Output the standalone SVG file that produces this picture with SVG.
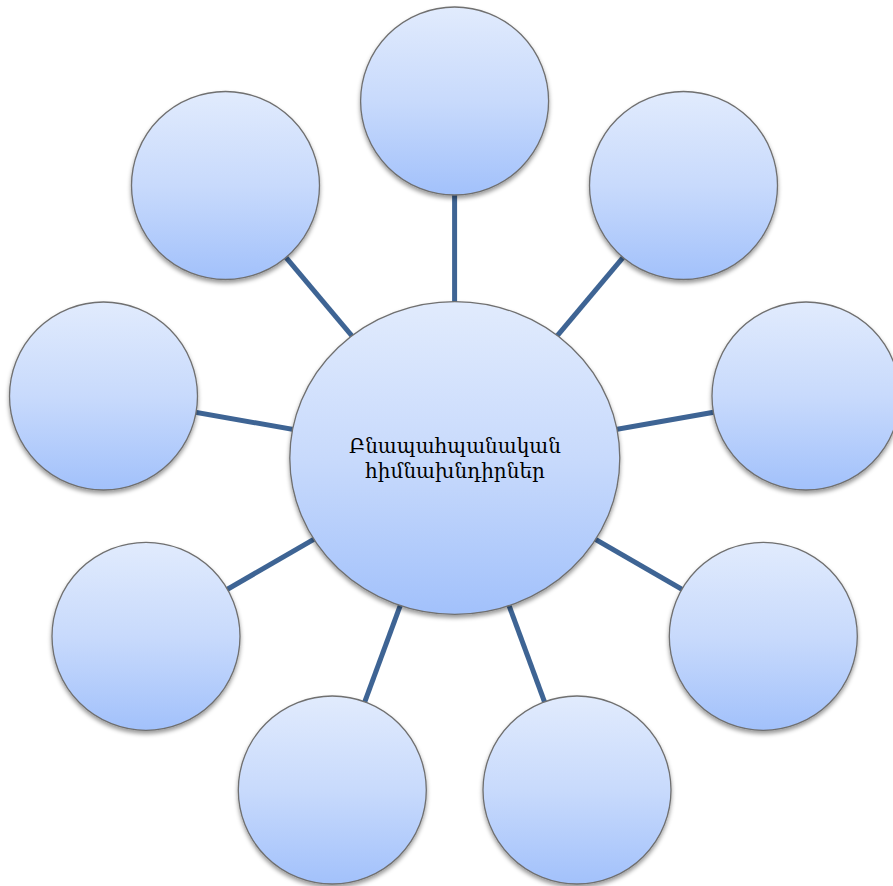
<svg xmlns="http://www.w3.org/2000/svg" width="893" height="886" viewBox="0 0 893 886">
<style>
.node{fill:url(#g);stroke:#6f6f6f;stroke-width:1.3;filter:url(#sh)}
.conn line{stroke:#3e6494;stroke-width:5;stroke-linecap:butt}
.lbl{font-family:"DejaVu Serif","Liberation Serif",serif;font-size:20px;fill:#000;text-anchor:middle}
</style>
<defs>
<linearGradient id="g" x1="0" y1="0" x2="0" y2="1">
<stop offset="0" stop-color="#e1ebfd"/>
<stop offset="0.5" stop-color="#c8dafc"/>
<stop offset="1" stop-color="#a2c1fb"/>
</linearGradient>
<filter id="sh" x="-20%" y="-20%" width="140%" height="150%">
<feDropShadow dx="0" dy="3" stdDeviation="2.2" flood-color="#000" flood-opacity="0.4"/>
</filter>
</defs>
<rect width="893" height="886" fill="#fff"/>
<g id="connectors" class="conn">
<line x1="454.6" y1="458" x2="454.6" y2="101"/>
<line x1="454.6" y1="458" x2="683.5" y2="185.5"/>
<line x1="454.6" y1="458" x2="806" y2="396"/>
<line x1="454.6" y1="458" x2="763.3" y2="636.3"/>
<line x1="454.6" y1="458" x2="577" y2="790"/>
<line x1="454.6" y1="458" x2="332.3" y2="790"/>
<line x1="454.6" y1="458" x2="146" y2="636.3"/>
<line x1="454.6" y1="458" x2="103.5" y2="396"/>
<line x1="454.6" y1="458" x2="225.5" y2="185.5"/>
</g>
<g id="n1"><circle class="node" cx="454.6" cy="101" r="94"/></g>
<g id="n2"><circle class="node" cx="683.5" cy="185.5" r="94"/></g>
<g id="n3"><circle class="node" cx="806" cy="396" r="94"/></g>
<g id="n4"><circle class="node" cx="763.3" cy="636.3" r="94"/></g>
<g id="n5"><circle class="node" cx="577" cy="790" r="94"/></g>
<g id="n6"><circle class="node" cx="332.3" cy="790" r="94"/></g>
<g id="n7"><circle class="node" cx="146" cy="636.3" r="94"/></g>
<g id="n8"><circle class="node" cx="103.5" cy="396" r="94"/></g>
<g id="n9"><circle class="node" cx="225.5" cy="185.5" r="94"/></g>
<g id="center">
<ellipse class="node" cx="454.8" cy="458" rx="165" ry="156.3"/>
<text class="lbl" x="455" y="453">Բնապահպանական</text>
<text class="lbl" x="455" y="478">հիմնախնդիրներ</text>
</g>
</svg>
